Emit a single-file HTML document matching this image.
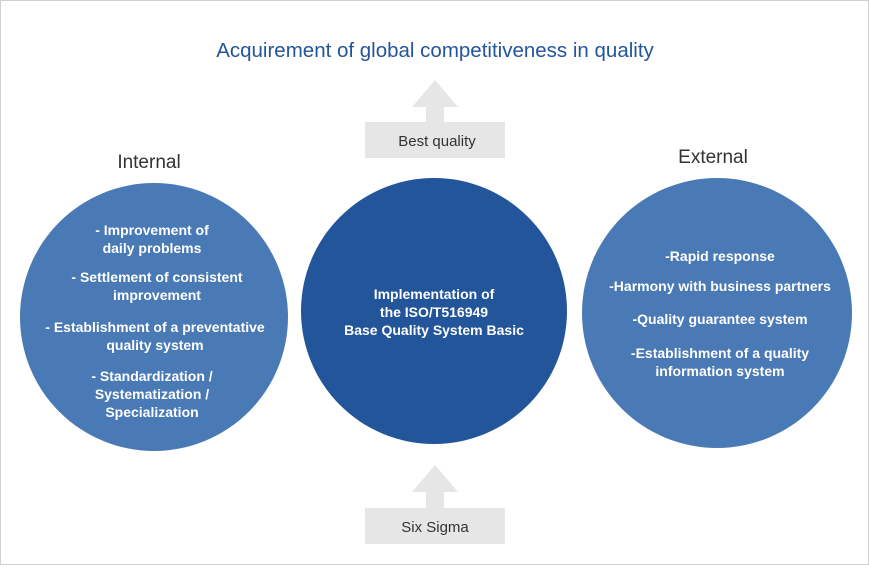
<!DOCTYPE html>
<html><head><style>
body{margin:0;width:869px;height:565px;background:#fff;overflow:hidden;font-family:"Liberation Sans","Noto Sans CJK KR",sans-serif}
</style></head><body>
<svg width="869" height="565" xmlns="http://www.w3.org/2000/svg" font-family="Liberation Sans, Noto Sans CJK KR, sans-serif">
<rect x="0.5" y="0.5" width="868" height="564" fill="#fff" stroke="#d0d0d0"/>
<text x="435" y="57" text-anchor="middle" font-size="20.5" fill="#23559a">Acquirement of global competitiveness in quality</text>
<polygon points="435,80 458,107 444,107 444,122 426,122 426,107 412,107" fill="#e6e6e6"/>
<rect x="365" y="122" width="140" height="36" fill="#e6e6e6"/>
<text x="437" y="146" text-anchor="middle" font-size="15" fill="#333">Best quality</text>
<polygon points="435,465 458,492 444,492 444,508 426,508 426,492 412,492" fill="#e6e6e6"/>
<rect x="365" y="508" width="140" height="36" fill="#e6e6e6"/>
<text x="435" y="532" text-anchor="middle" font-size="15" fill="#333">Six Sigma</text>
<text x="149" y="168" text-anchor="middle" font-size="19" fill="#333">Internal</text>
<text x="713" y="163" text-anchor="middle" font-size="19" fill="#333">External</text>
<circle cx="154" cy="317" r="134" fill="#4a7ab5"/>
<circle cx="434" cy="311" r="133" fill="#23559a"/>
<circle cx="717" cy="313" r="135" fill="#4a7ab5"/>
<g fill="#fff" font-size="14" font-weight="bold" text-anchor="middle">
<text x="152" y="235">- Improvement of</text>
<text x="152" y="253">daily problems</text>
<text x="157" y="282">- Settlement of consistent</text>
<text x="157" y="300">improvement</text>
<text x="155" y="332">- Establishment of a preventative</text>
<text x="155" y="350">quality system</text>
<text x="152" y="381">- Standardization /</text>
<text x="152" y="399">Systematization /</text>
<text x="152" y="417">Specialization</text>
<text x="434" y="299">Implementation of</text>
<text x="434" y="317">the ISO/T516949</text>
<text x="434" y="335">Base Quality System Basic</text>
<text x="720" y="261">-Rapid response</text>
<text x="720" y="291">-Harmony with business partners</text>
<text x="720" y="324">-Quality guarantee system</text>
<text x="720" y="358">-Establishment of a quality</text>
<text x="720" y="376">information system</text>
</g>
</svg>
</body></html>
